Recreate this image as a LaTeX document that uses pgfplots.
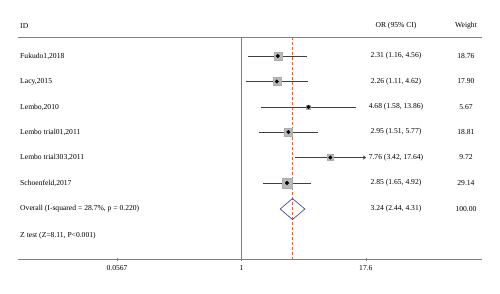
\documentclass[border=0pt]{standalone}
\usepackage{pgfplots}
\pgfplotsset{compat=1.18}
\usepackage{fontspec}
\setmainfont{Liberation Serif}
\usetikzlibrary{arrows.meta}
\definecolor{refred}{HTML}{D9623B}
\definecolor{refblue}{HTML}{4A4AA0}
\definecolor{axgray}{HTML}{7F7F7F}
\newcommand\fs{\fontsize{7.6}{9}\selectfont}
\tikzset{lab/.style={anchor=west, inner xsep=0pt, font=\fs, text=black}, col/.style={font=\fs, text=black}}
\begin{document}
\begin{tikzpicture}
\path (0pt,0pt) rectangle (500pt,293pt);
\begin{axis}[at={(18pt,34pt)}, anchor=south west, scale only axis,
  width=464pt, height=222pt,
  xmode=log, xmin=0.00578, xmax=256, ymin=37, ymax=259, y dir=reverse,
  axis y line=none, axis x line=bottom,
  x axis line style={-, draw=axgray, line width=0.8pt},
  xtick={0.0567,1,17.6}, xticklabels={0.0567,1,17.6},
  minor xtick={}, tick align=center, major tick length=3pt,
  xtick style={draw=axgray, line width=0.6pt},
  xticklabel style={font=\fs, text=black, yshift=-1pt},
  clip=false]
% frame lines
\addplot[axgray, line width=0.8pt] coordinates {(0.00578,37) (256,37)};
\addplot[axgray, line width=0.8pt] coordinates {(1,37) (1,259)};
\addplot[refred, line width=0.8pt, dash pattern=on 3pt off 2pt] coordinates {(3.24,37) (3.24,259)};
% confidence intervals
\addplot[black!75, line width=0.8pt] coordinates {(1.16,56) (4.56,56)};
\addplot[black!75, line width=0.8pt] coordinates {(1.11,81.5) (4.62,81.5)};
\addplot[black!75, line width=0.8pt] coordinates {(1.58,107) (13.86,107)};
\addplot[black!75, line width=0.8pt] coordinates {(1.51,132) (5.77,132)};
\addplot[black!75, line width=0.8pt, -{To[length=3pt,width=4pt]}] coordinates {(3.42,157.5) (17.6,157.5)};
\addplot[black!75, line width=0.8pt] coordinates {(1.65,183) (4.92,183)};
% weight squares
\addplot[scatter, only marks, mark=square*,
  scatter/use mapped color={draw=gray!65, fill=gray!55},
  visualization depends on={\thisrow{s} \as \perpointmarksize},
  scatter/@pre marker code/.append style={/tikz/mark size=\perpointmarksize}]
  table {
  x y s
  2.31 56 4.0
  2.26 81.5 3.9
  4.68 107 2.2
  2.95 132 4.0
  7.76 157.5 2.9
  2.85 183 5.0
  };
% point estimates
\addplot[only marks, mark=*, mark size=1.8pt, black] coordinates {
  (2.31,56) (2.26,81.5) (4.68,107) (2.95,132) (7.76,157.5) (2.85,183)};
% overall diamond
\addplot[refblue, line width=0.7pt] coordinates {
  (2.44,209) (3.24,198.5) (4.31,209) (3.24,219.5) (2.44,209)};
% text columns
\node[lab] at (axis cs:0.00606,26) {ID};
\node[col] at (axis cs:35.25,26) {OR (95\% CI)};
\node[col] at (axis cs:177,26) {Weight};
\node[lab] at (axis cs:0.00606,56) {Fukudo1,2018};
\node[col] at (axis cs:35.25,56) {2.31 (1.16, 4.56)};
\node[col] at (axis cs:177,56) {18.76};
\node[lab] at (axis cs:0.00606,81.5) {Lacy,2015};
\node[col] at (axis cs:35.25,81.5) {2.26 (1.11, 4.62)};
\node[col] at (axis cs:177,81.5) {17.90};
\node[lab] at (axis cs:0.00606,107) {Lembo,2010};
\node[col] at (axis cs:35.25,107) {4.68 (1.58, 13.86)};
\node[col] at (axis cs:177,107) {5.67};
\node[lab] at (axis cs:0.00606,132) {Lembo trial01,2011};
\node[col] at (axis cs:35.25,132) {2.95 (1.51, 5.77)};
\node[col] at (axis cs:177,132) {18.81};
\node[lab] at (axis cs:0.00606,157.5) {Lembo trial303,2011};
\node[col] at (axis cs:35.25,157.5) {7.76 (3.42, 17.64)};
\node[col] at (axis cs:177,157.5) {9.72};
\node[lab] at (axis cs:0.00606,183) {Schoenfeld,2017};
\node[col] at (axis cs:35.25,183) {2.85 (1.65, 4.92)};
\node[col] at (axis cs:177,183) {29.14};
\node[lab] at (axis cs:0.00606,209) {Overall (I-squared = 28.7\%, p = 0.220)};
\node[col] at (axis cs:35.25,209) {3.24 (2.44, 4.31)};
\node[col] at (axis cs:177,209) {100.00};
\node[lab] at (axis cs:0.00606,235.5) {Z test (Z=8.11, P<0.001)};
\end{axis}
\end{tikzpicture}
\end{document}
